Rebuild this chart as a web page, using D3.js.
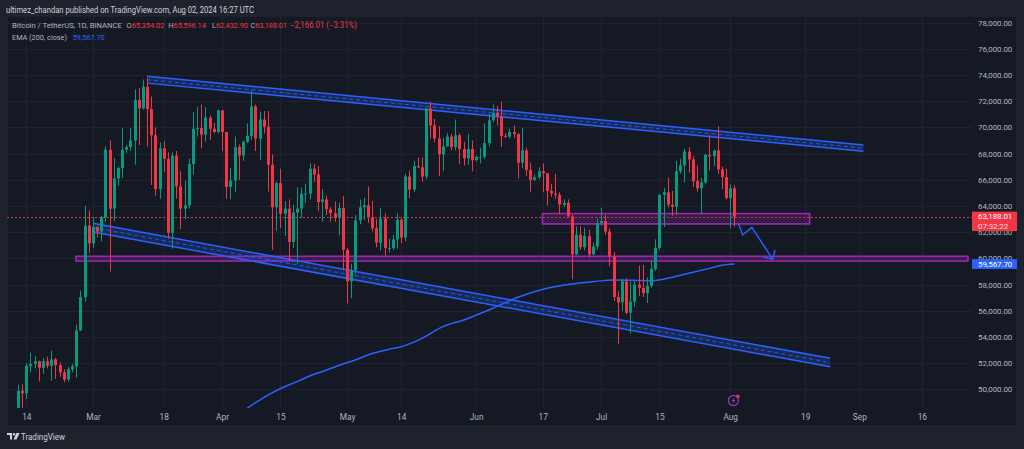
<!DOCTYPE html>
<meta charset="utf-8">
<style>
  html, body { margin: 0; padding: 0; background: #1e222d; }
  svg { display: block; font-family: Roboto, "Noto Sans", sans-serif; }
</style>
<body>
<svg id="chart" width="1024" height="449"></svg>
<script src="https://cdnjs.cloudflare.com/ajax/libs/d3/7.8.5/d3.min.js"></script>
<script>

// daily candles, BTC/USDT, first one is Feb 10 2024
var firstDay = "2024-02-10";

var opens = [
  47150, 47750, 48300, 49900, 49700, 51800, 51950, 52150, 51650, 52150, 51800, 52300, 51850, 51300, 50750, 51550, 51750, 54500, 57050, 62500,
  61150, 62400, 62050, 63150, 68300, 63800, 66100, 66900, 68300, 68500, 69000, 72100, 71450, 73100, 71400, 69400, 65300, 68400, 67600, 61950,
  67850, 65500, 63800, 64050, 67200, 69900, 69950, 69450, 70750, 69900, 69650,
  71300, 69650, 65450, 65950, 68500, 67850, 68900, 69350, 71600, 69150, 70600, 70050, 67150, 63900, 65750, 63400, 63800, 61250, 63500, 63800,
  64950, 64950, 66850, 66400, 64300, 64500, 63750, 63450, 63100, 63850,
  60650, 58250, 59100, 62900, 63900, 64050, 63150, 62300, 61200, 63050, 60800, 60800, 61450, 62950, 61600, 66250, 65250, 67050, 66950, 66250,
  71450, 70150, 69150, 67950, 68550, 69300, 68500, 69400, 68350, 67650, 68350,
  67500, 67750, 67750, 68800, 70550, 71100, 70800, 69350, 69300, 69650, 69500, 67300, 68250, 66750, 66000, 66200, 66650, 66500, 65150, 64950,
  64850, 64100, 64250, 63200, 60300, 61800, 60850, 61700, 60300, 60900,
  62700, 62850, 62050, 60150, 57050, 56650, 58250, 55850, 56700, 58000, 57750, 57350, 57900, 59200, 60800, 64850, 65050, 64100, 63950, 66650,
  67100, 68150, 67550, 65900, 65350, 65800, 67900, 67800, 68250, 66800, 66200,
  64600, 65354.02
];
var highs = [
  48200, 48550, 50350, 50400, 52000, 52800, 52550, 52200, 52400, 52500, 52950, 52400, 52050, 51550, 51700, 51950, 54950, 57550, 64000, 63650,
  63150, 62450, 63250, 68550, 69000, 67650, 67000, 69950, 68650, 69950, 72900, 73000, 73650, 73800, 72350, 70000, 68850, 68950, 68100, 68100,
  68200, 66650, 65950, 67600, 71150, 71550, 71750, 71550, 70900, 70350, 71350,
  71350, 69650, 66900, 69300, 68700, 69000, 70300, 72800, 71750, 71200, 71250, 71250, 67950, 65850, 66850, 64350, 64500, 64100, 65450, 65400,
  65700, 67250, 67200, 67050, 65300, 64800, 63900, 64350, 64250, 64750,
  60800, 59600, 63300, 64500, 64650, 65500, 64400, 63000, 63850, 63450, 61500, 61800, 63450, 63100, 66450, 66700, 67450, 67700, 67700, 71500,
  71950, 70650, 70100, 69200, 69550, 69500, 70600, 69550, 68900, 69500, 69000,
  67850, 68450, 70300, 71050, 71750, 71650, 71950, 69550, 69900, 70150, 69550, 69950, 68450, 67300, 66400, 66950, 67250, 66500, 65700, 66450,
  65050, 64500, 64500, 63350, 62450, 62450, 62350, 62200, 61200, 63050,
  63850, 63300, 62300, 60500, 57500, 58450, 58500, 58250, 58300, 59450, 59500, 58550, 59850, 61450, 64900, 65400, 66150, 65150, 67450, 67600,
  68350, 68500, 67800, 67100, 66150, 68000, 69400, 68300, 70100, 67000, 66850,
  65650, 65596.14
];
var lows = [
  47000, 47550, 47700, 48300, 49250, 51300, 51600, 50600, 51200, 51600, 50650, 50800, 50950, 50550, 50600, 51300, 50900, 54450, 56700, 60400,
  60800, 61600, 61300, 62800, 59000, 62850, 65550, 66150, 68050, 68200, 67150, 68650, 71350, 68550, 65600, 64800, 64550, 66600, 61500, 60750,
  64550, 62250, 63000, 63800, 66400, 69300, 68400, 68900, 69050, 69550, 69550,
  68200, 64550, 64500, 65100, 66000, 67450, 68800, 69050, 68200, 67500, 69550, 65100, 60650, 62100, 62300, 61700, 59800, 60800, 59600, 63100,
  64250, 64500, 65850, 63600, 62800, 63300, 62800, 62800, 61750, 59100,
  56550, 56950, 58800, 62600, 62900, 62700, 62050, 60850, 60600, 60200, 60450, 60650, 60750, 61150, 61300, 64600, 65100, 66900, 65850, 66050,
  69150, 68850, 66300, 66650, 68550, 68250, 68250, 67200, 67100, 67150, 66650,
  67400, 67250, 67600, 68550, 70400, 70150, 68500, 69200, 69150, 69200, 66100, 66900, 66300, 65100, 65900, 66050, 65050, 64050, 64700, 64550,
  63400, 63950, 63200, 58400, 60250, 60650, 60600, 60050, 60300, 60700,
  62500, 61800, 59400, 56750, 53500, 56000, 55750, 54250, 56300, 57150, 57050, 56600, 57750, 59050, 60650, 62400, 63900, 63250, 63300, 66450,
  65800, 66550, 65450, 65100, 63450, 65700, 66700, 67050, 66450, 65300, 64500,
  62300, 62432.90
];
var closes = [
  47750, 48300, 49900, 49700, 51800, 51950, 52150, 51650, 52150, 51800, 52300, 51850, 51300, 50750, 51550, 51750, 54500, 57050, 62500, 61150,
  62400, 62050, 63150, 68300, 63800, 66100, 66900, 68300, 68500, 69000, 72100, 71450, 73100, 71400, 69400, 65300, 68400, 67600, 61950, 67850,
  65500, 63800, 64050, 67200, 69900, 69950, 69450, 70750, 69900, 69650, 71300,
  69650, 65450, 65950, 68500, 67850, 68900, 69350, 71600, 69150, 70600, 70050, 67150, 63900, 65750, 63400, 63800, 61250, 63500, 63800, 64950,
  64950, 66850, 66400, 64300, 64500, 63750, 63450, 63100, 63850, 60650,
  58250, 59100, 62900, 63900, 64050, 63150, 62300, 61200, 63050, 60800, 60800, 61450, 62950, 61600, 66250, 65250, 67050, 66950, 66250, 71450,
  70150, 69150, 67950, 68550, 69300, 68500, 69400, 68350, 67650, 68350, 67500,
  67750, 67750, 68800, 70550, 71100, 70800, 69350, 69300, 69650, 69500, 67300, 68250, 66750, 66000, 66200, 66650, 66500, 65150, 64950, 64850,
  64100, 64250, 63200, 60300, 61800, 60850, 61700, 60300, 60900, 62700,
  62850, 62050, 60150, 57050, 56650, 58250, 55850, 56700, 58000, 57750, 57350, 57900, 59200, 60800, 64850, 65050, 64100, 63950, 66650, 67100,
  68150, 67550, 65900, 65350, 65800, 67900, 67800, 68250, 66800, 66200, 64600,
  65354.02, 63188.01
];

// EMA(200) at a handful of dates
var emaDates = ["2024-04-07", "2024-04-12", "2024-04-16", "2024-04-19", "2024-04-22", "2024-04-25", "2024-04-30", "2024-05-03",
  "2024-05-06", "2024-05-11", "2024-05-14", "2024-05-19", "2024-05-24", "2024-05-29", "2024-06-05", "2024-06-11", "2024-06-18",
  "2024-06-24", "2024-06-29", "2024-07-04", "2024-07-13", "2024-07-17", "2024-07-22", "2024-07-27", "2024-07-30", "2024-08-02"];
var emaValues = [48560, 49570, 50200, 50590, 51020, 51350, 51940, 52240,
  52630, 53060, 53260, 53900, 54790, 55300, 56190, 57030, 57720,
  58050, 58220, 58350, 58300, 58480, 58860, 59240, 59470, 59567.70];

// axes
var timeTickDates = ["2024-02-14", "2024-03-01", "2024-03-18", "2024-04-01", "2024-04-15", "2024-05-01", "2024-05-14", "2024-06-01",
  "2024-06-17", "2024-07-01", "2024-07-15", "2024-08-01", "2024-08-19", "2024-09-01", "2024-09-16"];
var timeTickLabels = ["14", "Mar", "18", "Apr", "15", "May", "14", "Jun", "17", "Jul", "15", "Aug", "19", "Sep", "16"];
var priceTicks = [50000, 52000, 54000, 56000, 58000, 60000, 62000, 64000, 66000, 68000, 70000, 72000, 74000, 76000, 78000];

// drawings on the chart, [time, price]
var upperChannelTop = [["2024-03-14", 73900], ["2024-09-02", 68650]];
var upperChannelBottom = [["2024-03-14", 73380], ["2024-09-02", 68180]];
var lowerChannelTop = [["2024-03-01", 62680], ["2024-08-25", 52370]];
var lowerChannelBottom = [["2024-03-01", 62020], ["2024-08-25", 51730]];
var supplyBox = [["2024-06-16T22:00", 63420], ["2024-08-20T02:00", 62630]];
var supportBox = [["2024-02-25T22:00", 60160], ["2024-09-27T02:00", 59800]];
var arrowPath = [["2024-08-02T23:00", 62680], ["2024-08-04T00:00", 61790], ["2024-08-06T05:00", 62370], ["2024-08-11T05:00", 59930]];
var arrowWings = [["2024-08-08T23:00", 60100], ["2024-08-11T18:00", 60640]];

var countdown = "07:32:22";
var author = "ultimez_chandan published on TradingView.com, Aug 02, 2024 16:27 UTC";
var symbolTitle = "Bitcoin / TetherUS, 1D, BINANCE";


var upColor = "#089981", downColor = "#f23645", blue = "#2962ff", purple = "#9c27b0";
var textColor = "#b2b5be", gridColor = "#1f2330", paneBg = "#151924";

var pane = { left: 7, top: 16, right: 1017, bottom: 426 };
var plot = { left: 7, top: 16, right: 972, bottom: 408 };

var parse = function (s) { return new Date(s + (s.length > 10 ? ":00Z" : "T00:00:00Z")); };

var x = d3.scaleUtc()
  .domain([parse("2024-02-14"), parse("2024-09-16")])
  .range([26.3, 921.8]);
var y = d3.scaleLinear()
  .domain([50000, 78000])
  .range([389.4, 22.6]);

var start = parse(firstDay);
var candles = closes.map(function (c, i) {
  return { date: d3.utcDay.offset(start, i), o: opens[i], h: highs[i], l: lows[i], c: c };
});

var svg = d3.select("#chart");

svg.append("rect").attr("width", 1024).attr("height", 449).attr("fill", "#1e222d");
svg.append("rect")
  .attr("x", pane.left).attr("y", pane.top)
  .attr("width", pane.right - pane.left).attr("height", pane.bottom - pane.top)
  .attr("fill", paneBg).attr("stroke", "#262a35").attr("stroke-width", 1);

svg.append("clipPath").attr("id", "plotclip")
  .append("rect")
  .attr("x", plot.left).attr("y", plot.top)
  .attr("width", plot.right - plot.left).attr("height", plot.bottom - plot.top);

// grid
var grid = svg.append("g").attr("clip-path", "url(#plotclip)");
grid.selectAll("line.h").data(priceTicks).join("line")
  .attr("class", "h")
  .attr("x1", plot.left).attr("x2", plot.right)
  .attr("y1", function (d) { return Math.round(y(d)) + 0.5; })
  .attr("y2", function (d) { return Math.round(y(d)) + 0.5; })
  .attr("stroke", gridColor);
grid.selectAll("line.v").data(timeTickDates).join("line")
  .attr("class", "v")
  .attr("x1", function (d) { return Math.round(x(parse(d))) + 0.5; })
  .attr("x2", function (d) { return Math.round(x(parse(d))) + 0.5; })
  .attr("y1", plot.top).attr("y2", plot.bottom)
  .attr("stroke", gridColor);

var g = svg.append("g").attr("clip-path", "url(#plotclip)");

// support box (long thin one) and supply box
function box(pts) {
  var x0 = x(parse(pts[0][0])), x1 = x(parse(pts[1][0]));
  var y0 = y(pts[0][1]), y1 = y(pts[1][1]);
  g.append("rect")
    .attr("x", x0).attr("y", y0)
    .attr("width", x1 - x0).attr("height", y1 - y0)
    .attr("fill", purple).attr("fill-opacity", 0.22)
    .attr("stroke", purple).attr("stroke-width", 1.6);
}
box(supportBox);
box(supplyBox);

// the two channels
function channel(top, bottom) {
  var pt = function (p) { return [x(parse(p[0])), y(p[1])]; };
  var a = pt(top[0]), b = pt(top[1]), c = pt(bottom[1]), d = pt(bottom[0]);
  g.append("path")
    .attr("d", "M" + [a, b, c, d].join("L") + "Z")
    .attr("fill", blue).attr("fill-opacity", 0.22);
  g.append("line")
    .attr("x1", (a[0] + d[0]) / 2).attr("y1", (a[1] + d[1]) / 2)
    .attr("x2", (b[0] + c[0]) / 2).attr("y2", (b[1] + c[1]) / 2)
    .attr("stroke", blue).attr("stroke-opacity", 0.8).attr("stroke-width", 1)
    .attr("stroke-dasharray", "4,3");
  [[a, b], [d, c]].forEach(function (s) {
    g.append("line")
      .attr("x1", s[0][0]).attr("y1", s[0][1])
      .attr("x2", s[1][0]).attr("y2", s[1][1])
      .attr("stroke", blue).attr("stroke-width", 1.5);
  });
}
channel(upperChannelTop, upperChannelBottom);
channel(lowerChannelTop, lowerChannelBottom);

// EMA 200
var emaLine = d3.line()
  .x(function (d, i) { return x(parse(emaDates[i])); })
  .y(function (d) { return y(d); })
  .curve(d3.curveMonotoneX);
g.append("path")
  .attr("d", emaLine(emaValues))
  .attr("fill", "none").attr("stroke", blue).attr("stroke-width", 1.5);

// last price line
var last = candles[candles.length - 1];
g.append("line")
  .attr("x1", plot.left).attr("x2", plot.right)
  .attr("y1", Math.round(y(last.c)) + 0.5).attr("y2", Math.round(y(last.c)) + 0.5)
  .attr("stroke", downColor).attr("stroke-opacity", 0.9).attr("stroke-width", 1)
  .attr("stroke-dasharray", "2,2");

// candles
var cg = g.append("g");
cg.selectAll("line").data(candles).join("line")
  .attr("x1", function (d) { return Math.round(x(d.date)) + 0.5; })
  .attr("x2", function (d) { return Math.round(x(d.date)) + 0.5; })
  .attr("y1", function (d) { return y(d.h); })
  .attr("y2", function (d) { return y(d.l); })
  .attr("stroke", function (d) { return d.c >= d.o ? upColor : downColor; })
  .attr("stroke-width", 1);
cg.selectAll("rect").data(candles).join("rect")
  .attr("x", function (d) { return Math.round(x(d.date)) - 1; })
  .attr("width", 3)
  .attr("y", function (d) { return y(Math.max(d.o, d.c)); })
  .attr("height", function (d) { return Math.max(1, Math.abs(y(d.o) - y(d.c))); })
  .attr("fill", function (d) { return d.c >= d.o ? upColor : downColor; });

// projection arrow
var ap = arrowPath.map(function (p) { return [x(parse(p[0])), y(p[1])]; });
var tip = ap[ap.length - 1];
g.append("path")
  .attr("d", d3.line()(ap))
  .attr("fill", "none").attr("stroke", blue).attr("stroke-width", 1.4);
arrowWings.forEach(function (p) {
  g.append("line")
    .attr("x1", tip[0]).attr("y1", tip[1])
    .attr("x2", x(parse(p[0]))).attr("y2", y(p[1]))
    .attr("stroke", blue).attr("stroke-width", 1.4);
});

// price axis
var fmt = d3.format(",.2f");
var axisFont = 8;
var yAxis = svg.append("g")
  .attr("transform", "translate(978,0)")
  .call(d3.axisRight(y).tickValues(priceTicks).tickFormat(fmt).tickSize(0).tickPadding(0));
yAxis.select(".domain").remove();
yAxis.selectAll("text")
  .attr("fill", textColor).attr("font-size", axisFont).attr("letter-spacing", -0.1)
  .attr("font-family", "Roboto, sans-serif");

// time axis
var xAxis = svg.append("g")
  .attr("transform", "translate(0," + plot.bottom + ")")
  .call(d3.axisBottom(x)
    .tickValues(timeTickDates.map(parse))
    .tickFormat(function (d, i) { return timeTickLabels[i]; })
    .tickSize(0).tickPadding(6));
xAxis.select(".domain").remove();
xAxis.selectAll("text")
  .attr("fill", textColor).attr("font-size", 8.3).attr("font-family", "Roboto, sans-serif");

// price labels on the axis
function axisLabel(value, color, lines) {
  var yc = y(value);
  var h = lines.length > 1 ? 19.4 : 9.8;
  var top = lines.length > 1 ? yc - 5 : yc - h / 2;
  svg.append("rect")
    .attr("x", plot.right).attr("y", top)
    .attr("width", pane.right - plot.right).attr("height", h)
    .attr("fill", color);
  lines.forEach(function (t, i) {
    svg.append("text")
      .attr("x", 978).attr("y", top + 4.9 + i * 9.5)
      .attr("dy", "0.35em")
      .attr("font-size", axisFont).attr("letter-spacing", -0.1)
      .attr("fill", "#ffffff").attr("fill-opacity", i ? 0.85 : 1)
      .text(t);
  });
}
axisLabel(last.c, downColor, [fmt(last.c), countdown]);
axisLabel(emaValues[emaValues.length - 1], blue, [fmt(emaValues[emaValues.length - 1])]);

// events marker under the last candle
var ev = svg.append("g").attr("transform", "translate(" + (x(last.date) - 1) + ",400.5)");
ev.append("circle").attr("r", 5).attr("fill", "none").attr("stroke", "#a53ec0").attr("stroke-width", 1.1);
ev.append("path").attr("d", "M1,-3.2L-1.8,0.6L0,0.6L-1,3.2L1.8,-0.6L0,-0.6Z").attr("fill", "#a53ec0");
ev.append("circle").attr("cx", 4.5).attr("cy", -4.3).attr("r", 1.8).attr("fill", downColor);

// header and legend; the snapshot font is narrow, so widths are fitted
function label(tx, ty, str, color, size, width) {
  var t = svg.append("text")
    .attr("x", tx).attr("y", ty).attr("dy", "0.35em")
    .attr("font-size", size).attr("fill", color)
    .text(str);
  if (width) t.attr("textLength", width).attr("lengthAdjust", "spacingAndGlyphs");
  return t;
}

label(6, 10, author, "#d1d4dc", 9, 248);

var prev = candles[candles.length - 2];
var chg = last.c - prev.c;
var legY = 25.5;
label(12, legY, symbolTitle, textColor, 8.1, 110);
// O H L C fields: letter + value in one text, x and width as in the reference legend
var ohlc = [["O", last.o, 126.5, 38], ["H", last.h, 168.3, 37.5], ["L", last.l, 212, 36], ["C", last.c, 250.5, 36.5]];
ohlc.forEach(function (p) {
  var t = label(p[2], legY, null, textColor, 7.7, p[3]);
  t.append("tspan").text(p[0]);
  t.append("tspan").attr("fill", downColor).text(fmt(p[1]));
});
label(290, legY, fmt(chg).replace("-", "\u2212") + " (" + d3.format(".2f")(chg / prev.c * 100).replace("-", "\u2212") + "%)",
  downColor, 8.2, 67);

label(12, 37.3, "EMA (200, close)", textColor, 8, 55);
label(72.7, 37.3, fmt(emaValues[emaValues.length - 1]), blue, 8, 32);

// footer logo
var logo = svg.append("g").attr("transform", "translate(7,433)").attr("fill", "#d1d4dc");
logo.append("path").attr("d", "M0,0H5V6.5H3V2H0Z");
logo.append("circle").attr("cx", 7).attr("cy", 1.2).attr("r", 1.2);
logo.append("path").attr("d", "M9.5,0H12.5L9.5,6.5H6.5Z");
label(21, 436.5, "TradingView", "#d1d4dc", 9, 44);

</script>
</body>
